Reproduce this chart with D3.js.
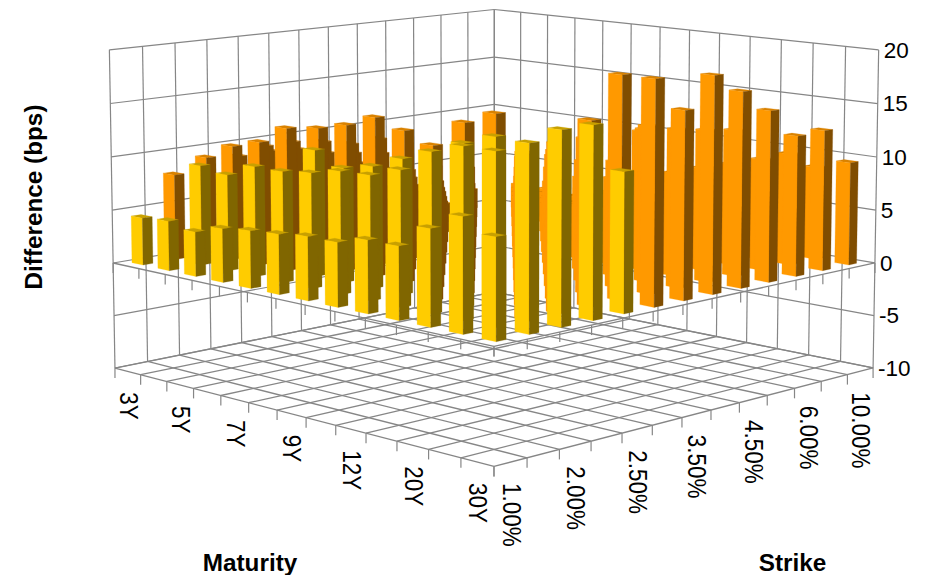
<!DOCTYPE html>
<html><head><meta charset="utf-8">
<script src="https://cdn.jsdelivr.net/npm/d3@7"></script>
<style>html,body{margin:0;padding:0;background:#fff}svg{display:block}text{font-family:"Liberation Sans",Arial,sans-serif;fill:#000}</style>
</head><body><div id="chart"></div>
<script>
const strikes = ["1.00%","1.50%","2.00%","2.25%","2.50%","3.00%","3.50%","4.00%","4.50%","5.00%","6.00%","8.00%","10.00%"];
const maturities = ["30Y","25Y","20Y","15Y","12Y","10Y","9Y","8Y","7Y","6Y","5Y","4Y","3Y"];
const valueTicks = [-10,-5,0,5,10,15,20];
// one row per strike, values in the order of `maturities`
const s100 = [8.7,9.9,8.4,6.4,6.4,5.7,5.7,5.4,5.2,4.9,4.1,4.6,4.4];
const s150 = [16.0,14.9,14.9,14.0,12.0,11.1,11.0,10.4,10.1,10.1,8.9,9.3,8.0];
const s200 = [16.7,14.3,15.3,14.3,13.7,12.1,11.0,10.4,11.6,13.2,11.5,10.7,9.2];
const s225 = [16.7,14.7,13.0,16.5,15.3,9.6,13.8,14.6,13.5,12.8,11.1,10.3,8.9];
const s250 = [12.3,16.3,13.2,11.2,12.1,10.4,8.1,9.3,11.8,10.9,10.7,9.6,9.0];
const s300 = [19.9,19.9,13.9,11.9,9.5,9.5,8.0,6.8,7.7,9.6,9.2,8.8,6.9];
const s350 = [16.8,15.0,11.4,11.0,9.9,7.2,7.2,6.3,5.4,6.1,7.3,7.4,6.5];
const s400 = [19.5,14.3,13.9,9.0,8.6,7.7,5.6,5.4,4.9,4.0,4.5,5.5,5.1];
const s450 = [17.7,13.8,9.5,12.9,6.8,5.1,5.4,4.5,4.0,3.6,2.8,3.1,3.7];
const s500 = [15.6,13.4,9.5,7.7,5.8,5.0,3.0,3.8,4.0,3.5,2.2,1.7,1.7];
const s600 = [12.9,10.3,9.4,6.3,5.5,4.5,3.0,2.8,3.3,3.5,3.0,0.9,1.0];
const s800 = [13.0,10.4,8.5,6.0,4.5,4.0,3.5,2.8,2.5,3.0,3.0,2.5,2.0];
const s1000 = [9.6,8.7,6.3,5.5,4.5,3.5,3.0,3.0,2.5,2.2,2.5,2.5,2.0];
const seriesValues = [s100,s150,s200,s225,s250,s300,s350,s400,s450,s500,s600,s800,s1000];
// maturities drawn in the light (yellow) group, per strike
const yellowGroup = {
  "1.00%": maturities,
  "1.50%": maturities.slice(0,12),
  "2.00%": ["30Y","20Y","15Y","10Y","9Y","8Y","7Y"],
  "2.25%": ["30Y"],
  "2.50%": ["30Y"]
};
const W=926,H=575;
const anchors = [ // model (u,v,w) -> pixel
  [0,1,0,115,368],[0,1,1,109.3,50],
  [1,0,0,873,368],[1,0,1,878.7,50],
  [0,0,0,494,466.7],[0,0,1/3,494,346],
  [1,1,1,494.3,9.5],[1,1,2/3,494.3,104.3]
];
function solve(A,b){
  const n=A.length,M=A.map((r,i)=>[...r,b[i]]);
  for(let c=0;c<n;c++){
    let p=c;for(let r=c+1;r<n;r++)if(Math.abs(M[r][c])>Math.abs(M[p][c]))p=r;
    [M[c],M[p]]=[M[p],M[c]];
    for(let r=0;r<n;r++){if(r===c)continue;const f=M[r][c]/M[c][c];for(let k=c;k<=n;k++)M[r][k]-=f*M[c][k];}
  }
  return M.map((r,i)=>r[n]/r[i]);
}
const rows=[],rhs=[];
anchors.forEach(([u,v,w,x,y])=>{
  const X=x/500,Y=y/500;
  rows.push([u,v,w,1,0,0,0,0,-X*u,-X*v,-X*w]);rhs.push(X);
  rows.push([0,0,0,0,u,v,w,1,-Y*u,-Y*v,-Y*w]);rhs.push(Y);
});
const AtA=d3.range(11).map(a=>d3.range(11).map(b=>d3.sum(rows,r=>r[a]*r[b])+(a===b?1e-10:0)));
const Atb=d3.range(11).map(a=>d3.sum(rows,(r,i)=>r[a]*rhs[i]));
const P=solve(AtA,Atb);
function project(u,v,w){
  const d=P[8]*u+P[9]*v+P[10]*w+1;
  return [500*(P[0]*u+P[1]*v+P[2]*w+P[3])/d,500*(P[4]*u+P[5]*v+P[6]*w+P[7])/d];
}
const zScale=d3.scaleLinear().domain([-10,20]).range([0,1]);
const edge=d3.scaleLinear().domain([0,13]).range([0,1]);
const uBand=d3.scaleBand().domain(strikes).range([0,1]).paddingInner(0.7).paddingOuter(0.35);
const vBand=d3.scaleBand().domain(maturities).range([0,1]).paddingInner(0.57).paddingOuter(0.285);
const uMid=d3.scaleBand().domain(strikes).range([0,1]);
const vMid=d3.scaleBand().domain(maturities).range([0,1]);

const svg=d3.select("#chart").append("svg").attr("width",W).attr("height",H).attr("viewBox",`0 0 ${W} ${H}`);
const gridColor="#868686";
function seg(g,a,b,sw){const p=project(...a),q=project(...b);
  g.append("line").attr("x1",p[0]).attr("y1",p[1]).attr("x2",q[0]).attr("y2",q[1]).attr("stroke",gridColor).attr("stroke-width",sw||1.2);}
const grid=svg.append("g");
d3.range(14).forEach(k=>{
  const t=edge(k);
  seg(grid,[t,1,0],[t,1,1]);   // left wall verticals
  seg(grid,[1,t,0],[1,t,1]);   // right wall verticals
  seg(grid,[t,0,0],[t,1,0],1.3); // floor
  seg(grid,[0,t,0],[1,t,0],1.3);
});
valueTicks.forEach(v=>{
  const w=zScale(v);
  seg(grid,[0,1,w],[1,1,w]);
  seg(grid,[1,1,w],[1,0,w]);
});
// zero-level axis lines and ticks
const z0=zScale(0),tickLen=10;
function tick(g,pt){const p=project(...pt);
  g.append("line").attr("x1",p[0]).attr("y1",p[1]).attr("x2",p[0]).attr("y2",p[1]+tickLen).attr("stroke",gridColor).attr("stroke-width",1.2);}
seg(grid,[0,0,z0],[0,1,z0],1.3);
seg(grid,[0,0,z0],[1,0,z0],1.3);
d3.range(14).forEach(k=>{
  const t=edge(k);
  tick(grid,[0,t,z0]);tick(grid,[t,0,z0]);
  tick(grid,[0,t,0]);tick(grid,[t,0,0]);
});
// bars, painted back to front
const palette={yellow:{side:"#FFCC00",dark:"#806600",top:"#C8A000"},orange:{side:"#FF9900",dark:"#804D00",top:"#D98200"}};
const poly=pts=>pts.map(p=>project(...p).join(",")).join(" ");
const bars=svg.append("g");
d3.range(strikes.length-1,-1,-1).forEach(i=>{
  const s=strikes[i];
  d3.range(maturities.length-1,-1,-1).forEach(j=>{
    const m=maturities[j],val=seriesValues[i][j];
    const c=(yellowGroup[s]||[]).includes(m)?palette.yellow:palette.orange;
    const u0=uBand(s),u1=u0+uBand.bandwidth(),v0=vBand(m),v1=v0+vBand.bandwidth();
    const a=zScale(0),b=zScale(val);
    const face=(pts,col)=>bars.append("polygon").attr("points",poly(pts)).attr("fill",col).attr("stroke",col).attr("stroke-width",0.25);
    face([[u0,v1,b],[u1,v1,b],[u1,v0,b],[u0,v0,b]],c.top);
    face([[u0,v0,a],[u0,v1,a],[u0,v1,b],[u0,v0,b]],c.side);
    face([[u0,v0,a],[u1,v0,a],[u1,v0,b],[u0,v0,b]],c.dark);
  });
});
// axis labels
const labels=svg.append("g").attr("font-size",22.5);
valueTicks.forEach(v=>{
  const p=project(1,0,zScale(v));
  labels.append("text").attr("x",p[0]+5).attr("y",p[1]).attr("dy","0.35em").text(v);
});
function rotLabel(pt,txt){const p=project(...pt);
  labels.append("text").attr("transform",`translate(${p[0]+1},${p[1]+21}) rotate(90) scale(1,1.15)`).attr("dy","0.35em").text(txt);}
maturities.forEach((m,j)=>{ if(j%2===0) rotLabel([0,vMid(m)+vMid.bandwidth()/2,0],m); });
strikes.forEach((s,i)=>{ if(i%2===0) rotLabel([uMid(s)+uMid.bandwidth()/2,0,0],s); });
const titles=svg.append("g").attr("font-size",24.3).attr("font-weight","bold").attr("text-anchor","middle");
titles.append("text").attr("x",250).attr("y",562).attr("dy","0.35em").text("Maturity");
titles.append("text").attr("x",792.5).attr("y",562).attr("dy","0.35em").text("Strike");
titles.append("text").attr("transform","translate(33,197) rotate(-90)").attr("dy","0.35em").text("Difference (bps)");
</script></body></html>
